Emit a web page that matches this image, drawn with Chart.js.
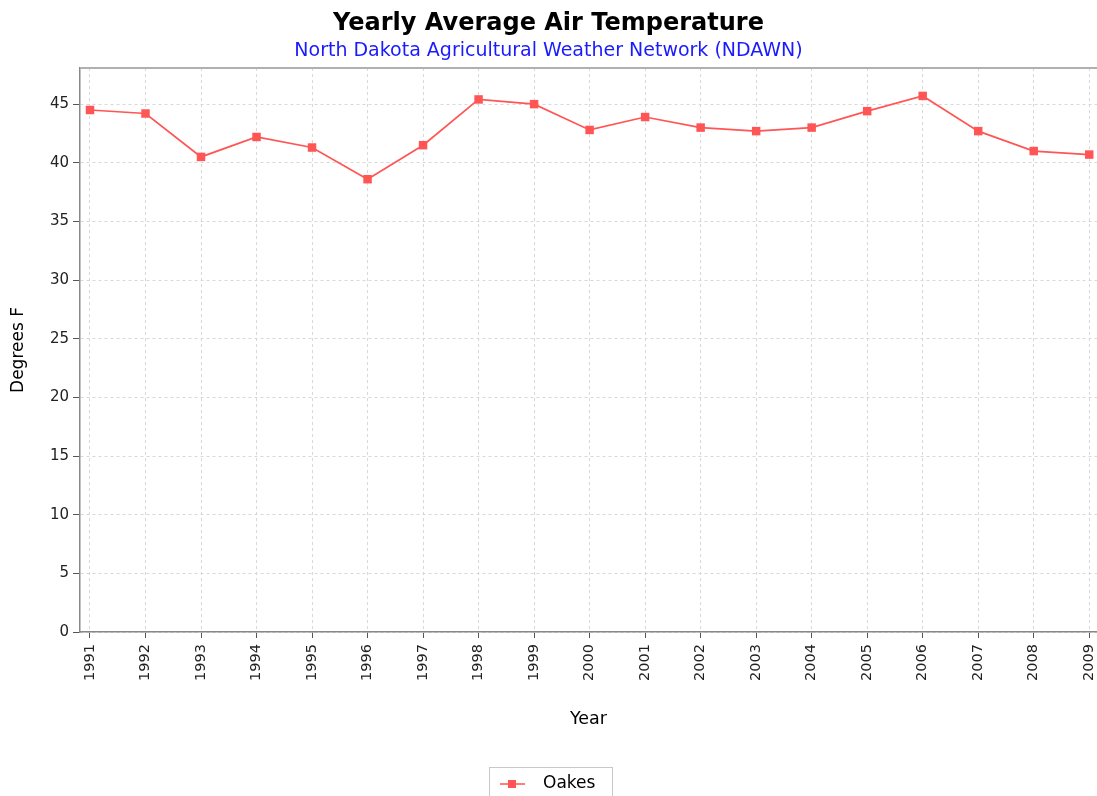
<!DOCTYPE html>
<html>
<head>
<meta charset="utf-8">
<script src="https://cdn.jsdelivr.net/npm/chart.js@4"></script>
<style>
  html, body { margin: 0; padding: 0; background: #fff; }
  #wrap { width: 1097px; height: 796px; }
</style>
</head>
<body>
<div id="wrap"><canvas id="chart" width="1097" height="796"></canvas></div>
<script>
// Yearly average air temperature, Oakes station (deg F)
const years = [1991, 1992, 1993, 1994, 1995, 1996, 1997, 1998, 1999, 2000,
               2001, 2002, 2003, 2004, 2005, 2006, 2007, 2008, 2009];
const oakes = [44.5, 44.2, 40.5, 42.2, 41.3, 38.6, 41.5, 45.4, 45.0, 42.8,
               43.9, 43.0, 42.7, 43.0, 44.4, 45.7, 42.7, 41.0, 40.7];
const yTicks = [0, 5, 10, 15, 20, 25, 30, 35, 40, 45];

const FONT = "'DejaVu Sans', sans-serif";
const RED = "#ff5555";

// plot frame: grey top border plus box legend under the axis title
const framePlugin = {
  id: "frame",
  afterDraw(chart) {
    const { ctx, chartArea } = chart;
    ctx.save();
    ctx.strokeStyle = "#b0b0b0";
    ctx.lineWidth = 2;
    ctx.beginPath();
    ctx.moveTo(chartArea.left, chartArea.top);
    ctx.lineTo(chartArea.right, chartArea.top);
    ctx.stroke();

    // legend
    const label = chart.data.datasets[0].label;
    const boxW = 123, boxX = 489.5, boxY = 767.5;
    ctx.strokeStyle = "#c8c8c8";
    ctx.lineWidth = 1;
    ctx.strokeRect(boxX, boxY, boxW, 40);
    const cy = 784;
    ctx.strokeStyle = RED;
    ctx.lineWidth = 1.5;
    ctx.beginPath();
    ctx.moveTo(500, cy);
    ctx.lineTo(525, cy);
    ctx.stroke();
    ctx.fillStyle = RED;
    ctx.fillRect(508, cy - 4, 8, 8);
    ctx.fillStyle = "#000";
    ctx.font = "17px " + FONT;
    ctx.textBaseline = "middle";
    ctx.textAlign = "left";
    ctx.fillText(label, 543, cy);
    ctx.restore();
  }
};

new Chart(document.getElementById("chart"), {
  type: "line",
  data: {
    datasets: [{
      label: "Oakes",
      data: years.map((y, i) => ({ x: y, y: oakes[i] })),
      borderColor: RED,
      backgroundColor: RED,
      borderWidth: 1.7,
      pointStyle: "rect",
      pointRadius: 6,
      pointBorderWidth: 0,
      tension: 0,
      clip: false
    }]
  },
  options: {
    responsive: false,
    animation: false,
    layout: { autoPadding: false, padding: 0 },
    plugins: {
      legend: { display: false },
      tooltip: { enabled: false },
      title: {
        display: true,
        text: "Yearly Average Air Temperature",
        color: "#000",
        font: { family: FONT, size: 24, weight: "bold" },
        padding: { top: 9, bottom: 1 }
      },
      subtitle: {
        display: true,
        text: "North Dakota Agricultural Weather Network (NDAWN)",
        color: "#1a1aff",
        font: { family: FONT, size: 19 },
        padding: { top: 1, bottom: 5.4 }
      }
    },
    scales: {
      x: {
        type: "linear",
        min: 1990.82,
        max: 2009.14,
        afterBuildTicks: s => { s.ticks = years.map(v => ({ value: v })); },
        afterFit: s => { s.height = 164; s.paddingLeft = 0; s.paddingRight = 0; },
        ticks: {
          autoSkip: false,
          maxRotation: 90,
          minRotation: 90,
          padding: 6,
          color: "#222",
          font: { family: FONT, size: 14.5 },
          callback: v => String(v)
        },
        grid: {
          color: "#d8d8d8",
          tickColor: "#555",
          tickLength: 6
        },
        border: { color: "#888", width: 1.5, dash: [3, 3] },
        title: {
          display: true,
          text: "Year",
          color: "#000",
          font: { family: FONT, size: 17.5 },
          padding: { top: 0, bottom: 66 }
        }
      },
      y: {
        min: 0,
        max: 48.08,
        afterBuildTicks: s => { s.ticks = yTicks.map(v => ({ value: v })); },
        afterFit: s => { s.width = 80; s.paddingTop = 0; s.paddingBottom = 0; },
        ticks: {
          padding: 4,
          color: "#222",
          font: { family: FONT, size: 15 }
        },
        grid: {
          color: "#d8d8d8",
          tickColor: "#555",
          tickLength: 7
        },
        border: { color: "#888", width: 1.5, dash: [3, 3] },
        title: {
          display: true,
          text: "Degrees F",
          color: "#000",
          font: { family: FONT, size: 17 },
          padding: { top: 8, bottom: 0 }
        }
      }
    }
  },
  plugins: [framePlugin]
});
</script>
</body>
</html>
